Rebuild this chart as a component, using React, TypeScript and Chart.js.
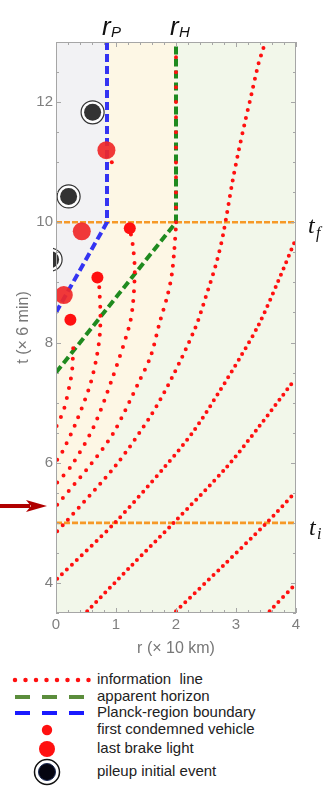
import React, { useEffect, useRef } from 'react';
import { Chart, registerables } from 'chart.js';

Chart.register(...registerables);

// ---------- data (r in ×10 km, t in ×6 min) ----------
const rRange = [0, 4];
const tRange = [3.5, 13];
const xTickValues = [0, 1, 2, 3, 4];
const yTickValues = [4, 6, 8, 10, 12];
const xMinorStep = 0.2;
const yMinorStep = 0.5;

const tFinal = 10;
const tInitial = 5;
const tArrow = 5.28;
const rPlanck = 0.85;
const rHorizon = 2;

const planckBoundary = [[0, 8.5], [0.85, 10], [0.85, 13]];
const apparentHorizon = [[0, 7.5], [2, 10], [2, 13]];
const centerLine = [[0, 3.5], [0, 13]];

const info1 = [[3.56, 3.53], [4.0, 3.99]];
const info2 = [[2.0, 3.53], [2.8, 4.3], [3.51, 5.0], [3.98, 5.5]];
const info3 = [[0.52, 3.53], [1.25, 4.28], [1.96, 5.0], [2.83, 5.91], [3.36, 6.57], [3.96, 7.36]];
const info4 = [[0.02, 4.07], [0.98, 5.0], [1.82, 5.94], [2.29, 6.52], [2.72, 7.18], [3.08, 7.77], [3.38, 8.3], [3.69, 8.99], [4.0, 9.73]];
const info5 = [[0.02, 4.86], [0.15, 5.0], [1.0, 5.96], [1.59, 6.8], [1.94, 7.43], [2.32, 8.24], [2.5, 8.77], [2.68, 9.35], [2.79, 9.82], [2.94, 10.67], [3.04, 11.17], [3.15, 11.67], [3.26, 12.14], [3.37, 12.62], [3.46, 12.91]];
const info6 = [[0.02, 5.3], [0.6, 6.0], [0.96, 6.5], [1.37, 7.32], [1.58, 7.78], [1.73, 8.34], [1.86, 8.79], [1.93, 9.13], [1.97, 9.52], [2.0, 9.94]];
const info6Top = [[2.0, 10.0], [2.0, 12.95]];
const info7 = [[0.02, 5.67], [0.25, 5.94], [0.62, 6.58], [0.93, 7.38], [1.22, 8.27], [1.28, 8.62], [1.31, 9.06], [1.31, 9.3], [1.28, 9.62], [1.23, 9.9], [1.2, 10.08]];
const info8 = [[0.02, 6.05], [0.11, 6.19], [0.33, 6.66], [0.57, 7.3], [0.68, 7.77], [0.73, 8.13], [0.74, 8.5], [0.72, 8.94]];
const info9 = [[0.01, 6.61], [0.13, 6.88], [0.24, 7.36], [0.27, 7.55], [0.29, 8.0]];
const infoStray = [[0.93, 11.0]];

const condemnedVehicle = [[1.23, 9.9], [0.69, 9.08], [0.24, 8.38]];
const lastBrakeLight = [[0.84, 11.2], [0.43, 9.85], [0.13, 8.79]];
const pileupEvent = [[0.61, 11.83], [0.21, 10.43], [-0.09, 9.38]];

// ---------- styles ----------
const RED = '#ff1010';
const GREEN_BG = '#f2f7ea';
const YELLOW_BG = '#fdf7e5';
const GRAY_BG = '#f2f2f4';
const ORANGE = 'rgba(246,148,28,0.95)';
const BLUE = '#3434f2';
const GREEN = '#1f8a1f';

const pts = (a: number[][]) => a.map(([x, y]) => ({ x, y }));

const infoLine = (data: number[][], spacing: number) => ({
  type: 'line',
  data: pts(data),
  borderColor: RED,
  borderWidth: 4,
  borderDash: [0, spacing],
  borderCapStyle: 'round',
  pointRadius: 0,
  tension: 0.3,
  fill: false,
  order: 50,
});

const decorPlugin = {
  id: 'decor',
  beforeDatasetsDraw(chart: any) {
    const { ctx, chartArea: a } = chart;
    ctx.save();
    ctx.fillStyle = GREEN_BG;
    ctx.fillRect(a.left, a.top, a.right - a.left, a.bottom - a.top);
    ctx.restore();
  },
  afterDatasetsDraw(chart: any) {
    const { ctx, chartArea: a, scales } = chart;
    const x = scales.x;
    const y = scales.y;
    ctx.save();
    ctx.strokeStyle = '#a6a6a6';
    ctx.lineWidth = 1;
    ctx.strokeRect(a.left + 0.5, a.top + 0.5, a.right - a.left - 1, a.bottom - a.top - 1);
    ctx.beginPath();
    const nx = Math.round((rRange[1] - rRange[0]) / xMinorStep);
    for (let i = 0; i <= nx; i++) {
      const v = rRange[0] + i * xMinorStep;
      const major = xTickValues.some((t) => Math.abs(t - v) < 1e-6);
      const len = major ? 5 : 3;
      const px = Math.round(x.getPixelForValue(v)) + 0.5;
      ctx.moveTo(px, a.bottom); ctx.lineTo(px, a.bottom - len);
      ctx.moveTo(px, a.top); ctx.lineTo(px, a.top + len);
    }
    const ny = Math.round((tRange[1] - tRange[0]) / yMinorStep);
    for (let i = 0; i <= ny; i++) {
      const v = tRange[0] + i * yMinorStep;
      const major = yTickValues.some((t) => Math.abs(t - v) < 1e-6);
      const len = major ? 5 : 3;
      const py = Math.round(y.getPixelForValue(v)) + 0.5;
      ctx.moveTo(a.left, py); ctx.lineTo(a.left + len, py);
      ctx.moveTo(a.right, py); ctx.lineTo(a.right - len, py);
    }
    ctx.stroke();
    ctx.restore();
  },
  afterDraw(chart: any) {
    const { ctx, chartArea: a, scales } = chart;
    const x = scales.x;
    const y = scales.y;
    ctx.save();
    ctx.fillStyle = '#111';
    ctx.textBaseline = 'alphabetic';
    ctx.textAlign = 'left';
    const drawSym = (main: string, sub: string, px: number, py: number, mainFont: string, subFont: string, subDx: number, subDy: number) => {
      ctx.font = mainFont;
      ctx.fillText(main, px, py);
      ctx.font = subFont;
      ctx.fillText(sub, px + subDx, py + subDy);
    };
    drawSym('r', 'P', x.getPixelForValue(rPlanck) - 5, a.top - 7, 'italic 26px "Liberation Sans"', 'italic 15px "Liberation Sans"', 9, 2);
    drawSym('r', 'H', x.getPixelForValue(rHorizon) - 6, a.top - 7, 'italic 26px "Liberation Sans"', 'italic 15px "Liberation Sans"', 9, 2);
    drawSym('t', 'f', a.right + 12, y.getPixelForValue(tFinal) + 11, 'italic 24px "Liberation Serif"', 'italic 16px "Liberation Serif"', 8, 5);
    drawSym('t', 'i', a.right + 13, y.getPixelForValue(tInitial) + 12, 'italic 24px "Liberation Serif"', 'italic 16px "Liberation Serif"', 8, 4);
    // arrow
    const ay = y.getPixelForValue(tArrow);
    ctx.fillStyle = '#b00000';
    ctx.fillRect(0, ay - 2, 30, 4);
    ctx.beginPath();
    ctx.moveTo(26, ay - 6);
    ctx.lineTo(47, ay);
    ctx.lineTo(26, ay + 6);
    ctx.lineTo(31, ay);
    ctx.closePath();
    ctx.fill();
    ctx.restore();
  },
};

function ChartCanvas() {
  const ref = useRef<HTMLCanvasElement | null>(null);
  useEffect(() => {
    document.body.style.margin = '0';
    if (!ref.current) return;
    const datasets: any[] = [
      // region fills
      { type: 'line', data: pts([...info6, [2, 13]]), borderColor: 'transparent', borderWidth: 0, pointRadius: 0, tension: 0.3, fill: 'end', backgroundColor: YELLOW_BG, order: 100 },
      { type: 'line', data: pts(planckBoundary), borderColor: 'transparent', borderWidth: 0, pointRadius: 0, tension: 0, fill: 'end', backgroundColor: GRAY_BG, order: 99 },
      // orange time lines
      { type: 'line', data: pts([[rRange[0], tFinal], [rRange[1], tFinal]]), borderColor: ORANGE, borderWidth: 2.6, borderDash: [6, 2], pointRadius: 0, fill: false, order: 90 },
      { type: 'line', data: pts([[rRange[0], tInitial], [rRange[1], tInitial]]), borderColor: ORANGE, borderWidth: 2.6, borderDash: [6, 2], pointRadius: 0, fill: false, order: 90 },
      // r = 0 thin line
      { type: 'line', data: pts(centerLine), borderColor: '#1a1aff', borderWidth: 1, borderDash: [2, 1], pointRadius: 0, fill: false, order: 85 },
      // horizon and Planck boundary
      { type: 'line', data: pts(apparentHorizon), borderColor: GREEN, borderWidth: 4, borderDash: [8, 4], pointRadius: 0, tension: 0, fill: false, order: 80 },
      { type: 'line', data: pts(planckBoundary), borderColor: BLUE, borderWidth: 4, borderDash: [8, 4], pointRadius: 0, tension: 0, fill: false, order: 79 },
      // information lines
      infoLine(info1, 6.5),
      infoLine(info2, 6.5),
      infoLine(info3, 6.5),
      infoLine(info4, 6.8),
      infoLine(info5, 8),
      infoLine(info6, 9),
      infoLine(info6Top, 15),
      infoLine(info7, 9.5),
      infoLine(info8, 9.5),
      infoLine(info9, 10),
      { type: 'line', data: pts(infoStray), showLine: false, pointRadius: 2, pointBackgroundColor: RED, pointBorderWidth: 0, order: 49 },
      // markers
      { type: 'line', data: pts(condemnedVehicle), showLine: false, pointRadius: 6, pointBackgroundColor: RED, pointBorderWidth: 0, order: 40 },
      { type: 'line', data: pts(lastBrakeLight), showLine: false, pointRadius: 9, pointBackgroundColor: 'rgba(240,40,40,0.92)', pointBorderWidth: 0, order: 39 },
      { type: 'line', data: pts(pileupEvent), showLine: false, pointRadius: 11.5, pointBackgroundColor: '#ffffff', pointBorderColor: '#333', pointBorderWidth: 1.2, order: 30, clip: { left: 3, top: 0, right: 0, bottom: 0 } },
      { type: 'line', data: pts(pileupEvent), showLine: false, pointRadius: 8.5, pointBackgroundColor: '#333333', pointBorderWidth: 0, order: 29, clip: { left: 3, top: 0, right: 0, bottom: 0 } },
    ];
    const chart = new Chart(ref.current, {
      type: 'line',
      data: { datasets },
      options: {
        animation: false,
        responsive: false,
        events: [],
        layout: { padding: { top: 42, right: 37, left: 0, bottom: 0 } },
        plugins: { legend: { display: false }, tooltip: { enabled: false } },
        scales: {
          x: {
            type: 'linear',
            min: rRange[0],
            max: rRange[1],
            afterBuildTicks: (s: any) => { s.ticks = xTickValues.map((v) => ({ value: v })); },
            afterFit: (s: any) => { s.height = 52; },
            grid: { display: false, drawTicks: false },
            border: { display: false },
            ticks: { padding: 3, color: '#7f7f7f', font: { size: 15, family: '"Liberation Sans", Arial, sans-serif' }, maxRotation: 0 },
            title: { display: true, text: 'r (× 10 km)', color: '#777', font: { size: 16, family: '"Liberation Sans", Arial, sans-serif' }, padding: { top: 0, bottom: 7 } },
          },
          y: {
            type: 'linear',
            min: tRange[0],
            max: tRange[1],
            afterBuildTicks: (s: any) => { s.ticks = yTickValues.map((v) => ({ value: v })); },
            afterFit: (s: any) => { s.width = 56; },
            grid: { display: false, drawTicks: false },
            border: { display: false },
            ticks: { padding: 3, color: '#7f7f7f', font: { size: 15, family: '"Liberation Sans", Arial, sans-serif' } },
            title: { display: true, text: 't (× 6 min)', color: '#777', font: { size: 16, family: '"Liberation Sans", Arial, sans-serif' }, padding: { top: 14, bottom: 0 } },
          },
        },
      } as any,
      plugins: [decorPlugin as any],
    } as any);
    return () => chart.destroy();
  }, []);
  return <canvas ref={ref} width={333} height={665} style={{ display: 'block', position: 'absolute', left: 0, top: 0 }} />;
}

const legendFont = '15px "Liberation Sans", Arial, sans-serif';

function LegendSymbol({ kind }: { kind: string }) {
  if (kind === 'dots') {
    return (
      <svg width="100" height="20">
        <line x1="15" y1="10" x2="89" y2="10" stroke={RED} strokeWidth="4.5" strokeLinecap="round" strokeDasharray="0 10.5" />
      </svg>
    );
  }
  if (kind === 'green' || kind === 'blue') {
    return (
      <svg width="100" height="20">
        <line x1="15" y1="10" x2="84" y2="10" stroke={kind === 'green' ? '#5b8d3c' : '#1a1aff'} strokeWidth="4" strokeDasharray="15 12" />
      </svg>
    );
  }
  if (kind === 'small') {
    return (
      <svg width="100" height="20"><circle cx="47" cy="10" r="5.2" fill={RED} /></svg>
    );
  }
  if (kind === 'big') {
    return (
      <svg width="100" height="20"><circle cx="47" cy="10" r="8" fill={RED} /></svg>
    );
  }
  return (
    <svg width="100" height="30">
      <circle cx="47" cy="15" r="12.5" fill="#fff" stroke="#111" strokeWidth="1.5" />
      <circle cx="47" cy="15" r="8.5" fill="#050510" stroke="#1b2a55" strokeWidth="1" />
    </svg>
  );
}

const legendRows = [
  { label: 'information  line', kind: 'dots', y: 680 },
  { label: 'apparent horizon', kind: 'green', y: 697 },
  { label: 'Planck-region boundary', kind: 'blue', y: 713 },
  { label: 'first condemned vehicle', kind: 'small', y: 730 },
  { label: 'last brake light', kind: 'big', y: 749 },
  { label: 'pileup initial event', kind: 'pile', y: 772 },
];

export default function App() {
  return (
    <div style={{ position: 'relative', width: 333, height: 789, background: '#fff' }}>
      <ChartCanvas />
      {legendRows.map((r) => (
        <div key={r.label} style={{ position: 'absolute', left: 0, top: r.y - (r.kind === 'pile' ? 15 : 10), height: r.kind === 'pile' ? 30 : 20, display: 'flex', alignItems: 'center' }}>
          <LegendSymbol kind={r.kind} />
        </div>
      ))}
      {legendRows.map((r) => (
        <div key={r.label + 't'} style={{ position: 'absolute', left: 97, top: r.y - 10, height: 20, lineHeight: '20px', font: legendFont, color: '#222', whiteSpace: 'pre' }}>
          {r.label}
        </div>
      ))}
    </div>
  );
}
